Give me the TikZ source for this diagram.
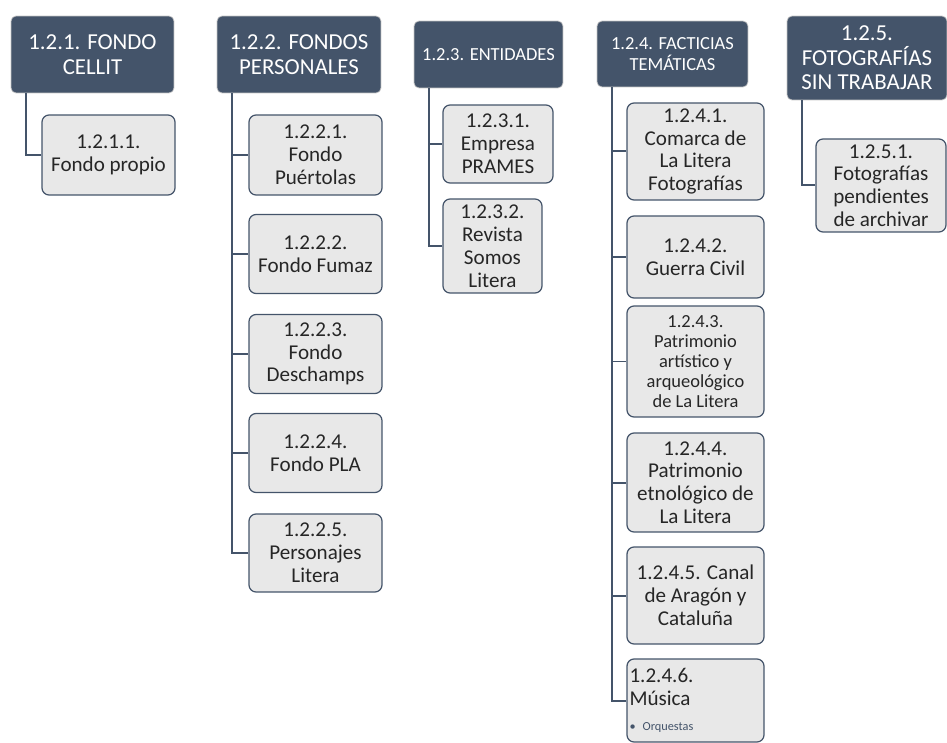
\documentclass[tikz,border=0pt]{standalone}
\usepackage{fontspec}
\setmainfont{Carlito}
\definecolor{slate}{HTML}{44546A}
\definecolor{paper}{HTML}{E8E8E8}
\definecolor{ink}{HTML}{262626}

\tikzset{
  head/.style={rectangle,rounded corners=.1cm,fill=slate,draw=gray!45,
    text=white,align=center,inner sep=0pt,font=\fontsize{13}{14}\selectfont},
  leaf/.style={rectangle,rounded corners=.14cm,fill=paper,draw=slate,
    line width=.7pt,text=ink,align=center,inner sep=0pt,
    font=\fontsize{12}{13}\selectfont},
}

\begin{document}
\begin{tikzpicture}[x=.02cm,y=-.02cm]
  \useasboundingbox (0,0) rectangle (947,743);

  % cabeceras
  \node[head,minimum width=3.26cm,minimum height=1.54cm] (1) at (92.5,54.5) {1.2.1. FONDO\\CELLIT};
  \node[head,minimum width=3.28cm,minimum height=1.54cm] (2) at (299,54.5) {1.2.2. FONDOS\\PERSONALES};
  \node[head,minimum width=2.98cm,minimum height=1.34cm,font=\fontsize{10.5}{11.5}\selectfont] (3) at (488.5,54.5) {1.2.3. ENTIDADES};
  \node[head,minimum width=3.02cm,minimum height=1.32cm,font=\fontsize{10.5}{11.5}\selectfont] (4) at (672.5,54) {1.2.4. FACTICIAS\\TEMÁTICAS};
  \node[head,minimum width=3.2cm,minimum height=1.68cm,font=\fontsize{13}{14}\selectfont] (5) at (867,58) {1.2.5.\\FOTOGRAFÍAS\\SIN TRABAJAR};

  % subseries
  \begin{scope}[every node/.style={leaf}]
    \node[minimum width=2.66cm,minimum height=1.6cm] (11) at (108.5,155) {1.2.1.1.\\Fondo propio};

    \node[minimum width=2.66cm,minimum height=1.6cm] (21) at (315.5,155) {1.2.2.1.\\Fondo\\Puértolas};
    \node[minimum width=2.66cm,minimum height=1.58cm] (22) at (315.5,254) {1.2.2.2.\\Fondo Fumaz};
    \node[minimum width=2.66cm,minimum height=1.58cm] (23) at (315.5,354) {1.2.2.3.\\Fondo\\Deschamps};
    \node[minimum width=2.66cm,minimum height=1.58cm] (24) at (315.5,453) {1.2.2.4.\\Fondo PLA};
    \node[minimum width=2.66cm,minimum height=1.56cm] (25) at (315.5,553) {1.2.2.5.\\Personajes\\Litera};

    \node[minimum width=2.2cm,minimum height=1.56cm] (31) at (498,144) {1.2.3.1.\\Empresa\\PRAMES};
    \node[minimum width=1.98cm,minimum height=1.88cm] (32) at (492.5,246) {1.2.3.2.\\Revista\\Somos\\Litera};

    \node[minimum width=2.74cm,minimum height=1.94cm] (41) at (695.5,151.5) {1.2.4.1.\\Comarca de\\La Litera\\Fotografías};
    \node[minimum width=2.74cm,minimum height=1.64cm] (42) at (695.5,257) {1.2.4.2.\\Guerra Civil};
    \node[minimum width=2.74cm,minimum height=2.22cm,font=\fontsize{10.5}{11.5}\selectfont] (43) at (695.5,361.5) {1.2.4.3.\\Patrimonio\\artístico y\\arqueológico\\de La Litera};
    \node[minimum width=2.74cm,minimum height=1.98cm] (44) at (695.5,482.5) {1.2.4.4.\\Patrimonio\\etnológico de\\La Litera};
    \node[minimum width=2.74cm,minimum height=1.94cm] (45) at (695.5,595.5) {1.2.4.5. Canal\\de Aragón y\\Cataluña};
    \node[minimum width=2.74cm,minimum height=1.66cm,align=left,text width=2.64cm] (46) at (695.5,700.5)
      {1.2.4.6.\\Música\\[1pt]{\fontsize{7}{8}\selectfont\color{slate}\textbullet\ Orquestas}};

    \node[minimum width=2.6cm,minimum height=1.86cm] (51) at (881,185.5) {1.2.5.1.\\Fotografías\\pendientes\\de archivar};
  \end{scope}

  % conectores
  \begin{scope}[every edge/.style={draw=slate,line width=.04cm,to path={|- (\tikztotarget)}}]
    \path ([xshift=.3cm]1.south west) edge (11);
    \path ([xshift=.3cm]2.south west) edge (21) edge (22) edge (23) edge (24) edge (25);
    \path ([xshift=.3cm]3.south west) edge (31) edge (32);
    \path ([xshift=.3cm]4.south west) edge (41) edge (42) edge (43) edge (44) edge (45) edge (46);
    \path ([xshift=.3cm]5.south west) edge (51);
  \end{scope}

\end{tikzpicture}
\end{document}
